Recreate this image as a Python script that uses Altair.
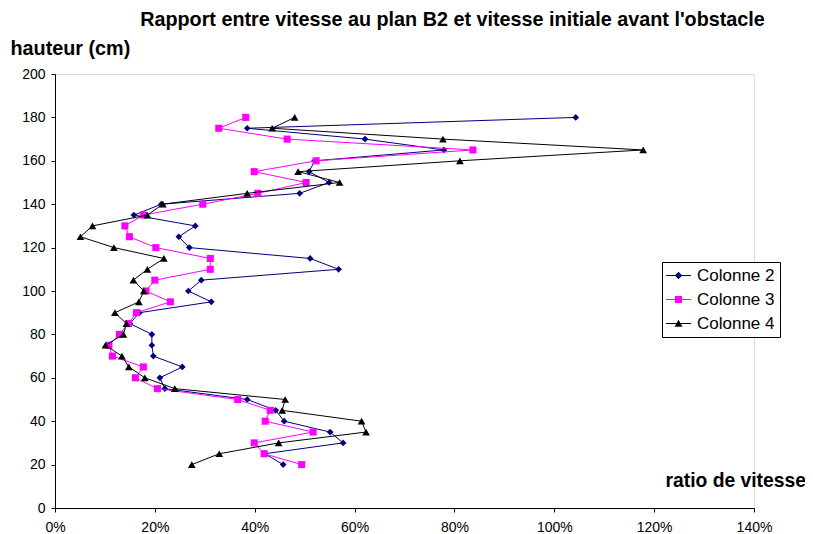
import altair as alt
import pandas as pd

heights = [180, 175, 170, 165, 160, 155, 150, 145, 140, 135, 130, 125, 120, 115, 110,
           105, 100, 95, 90, 85, 80, 75, 70, 65, 60, 55, 50, 45, 40, 35, 30, 25, 20]

col2 = [104.3, 38.5, 62.1, 77.9, 52.0, 50.9, 54.9, 49.0, 21.3, 15.8, 28.1, 24.8, 26.9, 51.1, 56.8,
        29.3, 26.7, 31.3, 16.9, 15.0, 19.4, 19.4, 19.7, 25.5, 21.0, 22.0, 38.5, 44.2, 45.9, 55.1, 57.7, 42.0, 45.7]
col3 = [38.2, 32.8, 46.5, 83.7, 52.3, 39.9, 50.3, 40.6, 29.6, 17.7, 14.0, 14.9, 20.2, 31.1, 31.1,
        20.0, 18.2, 23.1, 16.3, 14.7, 12.9, 10.8, 11.5, 17.7, 16.1, 20.5, 36.6, 43.1, 42.1, 51.7, 39.9, 41.9, 49.4]
col4 = [48.0, 43.5, 77.7, 117.8, 81.1, 48.7, 57.0, 38.5, 21.6, 18.5, 7.5, 5.1, 11.8, 21.8, 18.5,
        15.7, 17.8, 16.8, 12.0, 14.3, 13.7, 10.1, 13.4, 14.8, 18.0, 24.0, 46.1, 45.5, 61.4, 62.3, 44.8, 32.9, 27.4]

series_names = ["Colonne 2", "Colonne 3", "Colonne 4"]
series_colors = ["#000080", "#FF00FF", "#000000"]
series_shapes = ["diamond", "square", "triangle-up"]
series_sizes = [45, 50, 60]
legend_paths = [
    "M-2.5,-0.1H2.5V0.1H-2.5Z M-0.75,0L0,-0.75L0.75,0L0,0.75Z",
    "M-2.5,-0.1H2.5V0.1H-2.5Z M-0.7,-0.7H0.7V0.7H-0.7Z",
    "M-2.5,-0.1H2.5V0.1H-2.5Z M0,-0.75L0.8,0.65L-0.8,0.65Z",
]

rows = []
for name, vals in zip(series_names, [col2, col3, col4]):
    for h, v in zip(heights, vals):
        rows.append({"serie": name, "hauteur": h, "ratio": v / 100.0})
df = pd.DataFrame(rows)

xscale = alt.Scale(domain=[0, 1.4], nice=False, zero=False)
yscale = alt.Scale(domain=[0, 200], nice=False, zero=False)

xaxis = alt.Axis(values=[0, 0.2, 0.4, 0.6, 0.8, 1.0, 1.2, 1.4], format=".0%", grid=False,
                 title="ratio de vitesse", titleAngle=0, titleX=610, titleY=-28,
                 titleAlign="left", titleBaseline="middle", titleFontSize=19.3,
                 titleFontWeight="bold", titleFont="Liberation Sans", titleColor="#000000",
                 labelFont="Liberation Sans", labelFontSize=14, labelColor="#000000",
                 labelPadding=8, tickSize=4, domainColor="#000000", tickColor="#000000",
                 labelFlush=False)
yaxis = alt.Axis(values=list(range(0, 201, 20)), grid=False,
                 title="hauteur (cm)", titleAngle=0, titleX=-45, titleY=-26,
                 titleAlign="left", titleBaseline="middle", titleFontSize=19.8,
                 titleFontWeight="bold", titleFont="Liberation Sans", titleColor="#000000",
                 labelFont="Liberation Sans", labelFontSize=14, labelColor="#000000",
                 labelPadding=6, tickSize=4, domainColor="#000000", tickColor="#000000")

enc_x = alt.X("ratio:Q", scale=xscale, axis=xaxis)
enc_y = alt.Y("hauteur:Q", scale=yscale, axis=yaxis)

base = alt.Chart(df)
layers = []
for name, color, shape, size in zip(series_names, series_colors, series_shapes, series_sizes):
    sub = base.transform_filter(alt.datum.serie == name)
    line = sub.mark_line(color=color, strokeWidth=1).encode(
        x=enc_x, y=enc_y, order=alt.Order("hauteur:Q"))
    pts = sub.mark_point(shape=shape, filled=True, color=color, size=size, opacity=1).encode(
        x=enc_x, y=enc_y)
    layers += [line, pts]

leg = alt.Legend(title=None, orient="none", legendX=607, legendY=188,
                 direction="vertical", strokeColor="#000000",
                 padding=5, rowPadding=6, symbolSize=100, symbolOffset=3,
                 labelFont="Liberation Sans", labelFontSize=17,
                 labelColor="#000000", labelOffset=10,
                 symbolStrokeWidth=0, fillColor="#ffffff")

legend_layer = base.mark_point(filled=True, size=100, clip=True, opacity=1).encode(
    x=alt.value(-200), y=alt.value(-200),
    color=alt.Color("serie:N", scale=alt.Scale(domain=series_names, range=series_colors), legend=leg),
    shape=alt.Shape("serie:N", scale=alt.Scale(domain=series_names, range=legend_paths), legend=leg),
)

chart = alt.layer(*layers, legend_layer).properties(
    width=699, height=434,
    autosize=alt.AutoSizeParams(type="none"),
    padding={"left": 47, "top": 66, "right": 51, "bottom": 26},
    title=alt.TitleParams("Rapport entre vitesse au plan B2 et vitesse initiale avant l'obstacle",
                          anchor="middle", dx=48, offset=8, font="Liberation Sans",
                          fontSize=19.8, fontWeight="bold", color="#000000"),
).configure_view(strokeWidth=0).configure(background="#ffffff")

chart.save("out.html", embed_options={"renderer": "svg", "actions": False})
